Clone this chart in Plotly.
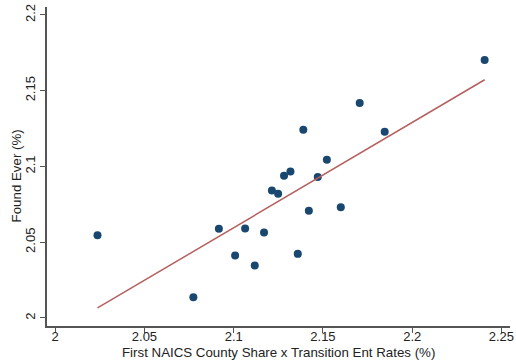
import plotly.graph_objects as go

# Data
share_x = [2.0237, 2.0774, 2.0917, 2.1008, 2.1064, 2.1118, 2.1170, 2.1214, 2.1249, 2.1282,
           2.1318, 2.1359, 2.1390, 2.1421, 2.1471, 2.1522, 2.1600, 2.1706, 2.1846, 2.2406]
found_y = [2.0546, 2.0137, 2.0588, 2.0412, 2.0590, 2.0346, 2.0564, 2.0841, 2.0819, 2.0938,
           2.0967, 2.0423, 2.1242, 2.0707, 2.0931, 2.1044, 2.0731, 2.1418, 2.1229, 2.1702]
fit_x = [2.0237, 2.2406]
fit_y = [2.0066, 2.1572]

x_ticks = [2, 2.05, 2.1, 2.15, 2.2, 2.25]
x_labels = ["2", "2.05", "2.1", "2.15", "2.2", "2.25"]
y_ticks = [2, 2.05, 2.1, 2.15, 2.2]
y_labels = ["2", "2.05", "2.1", "2.15", "2.2"]

fig = go.Figure()
fig.add_trace(go.Scatter(x=share_x, y=found_y, mode="markers",
                         marker=dict(color="#1a476f", size=8, line=dict(width=0)),
                         showlegend=False, hoverinfo="skip"))
fig.add_trace(go.Scatter(x=fit_x, y=fit_y, mode="lines",
                         line=dict(color="#b5605f", width=1.5),
                         showlegend=False, hoverinfo="skip"))

axis_font = dict(family="Liberation Sans, Arial, sans-serif", size=13, color="#222222")
title_font = dict(family="Liberation Sans, Arial, sans-serif", size=13.3, color="#222222")
fig.update_layout(
    width=516, height=361,
    margin=dict(l=47, r=6, t=7, b=35),
    paper_bgcolor="white", plot_bgcolor="white",
    font=axis_font,
    xaxis=dict(range=[1.9954, 2.2548], tickvals=x_ticks, ticktext=x_labels,
               showgrid=False, zeroline=False, showline=True, linecolor="#555555",
               linewidth=1.5, ticks="outside", ticklen=5, tickwidth=1.2, tickcolor="#555555",
               tickfont=axis_font, automargin=False, ticklabelstandoff=-7),
    yaxis=dict(range=[1.9947, 2.2052], tickvals=y_ticks, ticktext=y_labels,
               showgrid=False, zeroline=False, showline=True, linecolor="#555555",
               linewidth=1.5, ticks="outside", ticklen=5, tickwidth=1.2, tickcolor="#555555",
               tickfont=axis_font, tickangle=-90, automargin=False),
    annotations=[
        dict(text="Found Ever (%)", x=-0.067, y=0.472, xref="paper", yref="paper",
             textangle=-90, showarrow=False, font=title_font,
             xanchor="center", yanchor="middle"),
        dict(text="First NAICS County Share x Transition Ent Rates (%)", x=0.5, y=-0.0846,
             xref="paper", yref="paper", showarrow=False, font=title_font,
             xanchor="center", yanchor="middle"),
    ],
)

fig.write_html("out.html")
